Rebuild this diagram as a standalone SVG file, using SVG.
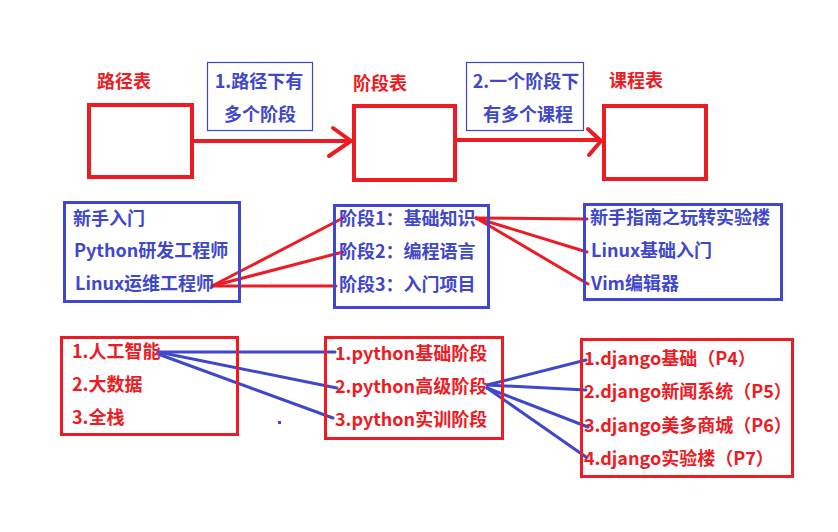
<svg xmlns="http://www.w3.org/2000/svg" width="838" height="532" viewBox="0 0 838 532">
<style>
text{font-family:"Microsoft YaHei","Noto Sans CJK SC","Noto Sans",sans-serif;font-weight:bold;font-size:18px}
.r{fill:#ed1c24}
.b{fill:#3f48cc}
.tbl{fill:none;stroke:#ed1c24;stroke-width:4}
.bb{fill:none;stroke:#3f48cc;stroke-width:3}
.rb{fill:none;stroke:#ed1c24;stroke-width:3}
.lb{fill:#fff;stroke:#3f48cc;stroke-width:1.2}
.rl{stroke:#ed1c24;stroke-width:3;fill:none;stroke-linecap:round}
.bl{stroke:#3f48cc;stroke-width:3;fill:none;stroke-linecap:round}
.ar{stroke:#ed1c24;stroke-width:4;fill:none;stroke-linecap:round}
</style>
<rect width="838" height="532" fill="#fff"/>
<g id="connectors">
<line class="ar" x1="194" y1="141" x2="350" y2="141"/>
<polyline class="ar" points="333,128 351,141 329,156"/>
<line class="ar" x1="457" y1="140" x2="600" y2="140"/>
<polyline class="ar" points="588,129 601,141 589,155"/>
<line class="rl" x1="212" y1="286" x2="343" y2="218"/>
<line class="rl" x1="212" y1="286" x2="343" y2="252"/>
<line class="rl" x1="212" y1="286" x2="336" y2="286"/>
<line class="rl" x1="476" y1="218" x2="587" y2="219"/>
<line class="rl" x1="476" y1="218" x2="587" y2="252"/>
<line class="rl" x1="476" y1="218" x2="588" y2="284"/>
<line class="bl" x1="158" y1="352" x2="335" y2="352"/>
<line class="bl" x1="158" y1="352" x2="337" y2="388"/>
<line class="bl" x1="158" y1="354" x2="333" y2="418"/>
<line class="bl" x1="487" y1="385" x2="586" y2="360"/>
<line class="bl" x1="487" y1="385" x2="586" y2="390"/>
<line class="bl" x1="487" y1="388" x2="588" y2="427"/>
<line class="bl" x1="487" y1="388" x2="586" y2="457"/>
<rect x="278" y="421" width="3" height="3" fill="#3f48cc"/>
</g>
<g id="path-table">
<text class="r" x="97" y="88">路径表</text>
<rect class="tbl" x="89" y="105" width="103" height="72"/>
</g>
<g id="label1">
<rect class="lb" x="207.5" y="62.5" width="105" height="68"/>
<text class="b" x="259" y="88" text-anchor="middle">1.路径下有</text>
<text class="b" x="260" y="121" text-anchor="middle">多个阶段</text>
</g>
<g id="stage-table">
<text class="r" x="353" y="90">阶段表</text>
<rect class="tbl" x="354" y="106" width="101" height="74"/>
</g>
<g id="label2">
<rect class="lb" x="466.5" y="62.5" width="117" height="68"/>
<text class="b" x="526" y="88" text-anchor="middle">2.一个阶段下</text>
<text class="b" x="528" y="121" text-anchor="middle">有多个课程</text>
</g>
<g id="course-table">
<text class="r" x="609" y="87">课程表</text>
<rect class="tbl" x="604" y="106" width="102" height="73"/>
</g>
<g id="paths">
<rect class="bb" x="64.5" y="202.5" width="175" height="99"/>
<text class="b" x="73" y="225">新手入门</text>
<text class="b" x="74" y="257">Python研发工程师</text>
<text class="b" x="75" y="290">Linux运维工程师</text>
</g>
<g id="stages">
<rect class="bb" x="334.5" y="205.5" width="154" height="102"/>
<text class="b" x="339" y="225">阶段1：基础知识</text>
<text class="b" x="339" y="258">阶段2：编程语言</text>
<text class="b" x="339" y="291">阶段3：入门项目</text>
</g>
<g id="courses">
<rect class="bb" x="584.5" y="204.5" width="197" height="95"/>
<text class="b" x="590" y="224">新手指南之玩转实验楼</text>
<text class="b" x="591" y="257">Linux基础入门</text>
<text class="b" x="591" y="290">Vim编辑器</text>
</g>
<g id="paths-example">
<rect class="rb" x="61.5" y="337.5" width="176" height="97"/>
<text class="r" x="72" y="358">1.人工智能</text>
<text class="r" x="72" y="391">2.大数据</text>
<text class="r" x="72" y="424">3.全栈</text>
</g>
<g id="stages-example">
<rect class="rb" x="325.5" y="337.5" width="177" height="101"/>
<text class="r" x="335" y="360">1.python基础阶段</text>
<text class="r" x="335" y="393">2.python高级阶段</text>
<text class="r" x="335" y="426">3.python实训阶段</text>
</g>
<g id="courses-example">
<rect class="rb" x="581.5" y="339.5" width="211" height="137"/>
<text class="r" x="584" y="365">1.django基础（P4）</text>
<text class="r" x="584" y="398">2.django新闻系统（P5）</text>
<text class="r" x="584" y="432">3.django美多商城（P6）</text>
<text class="r" x="584" y="465">4.django实验楼（P7）</text>
</g>
</svg>
